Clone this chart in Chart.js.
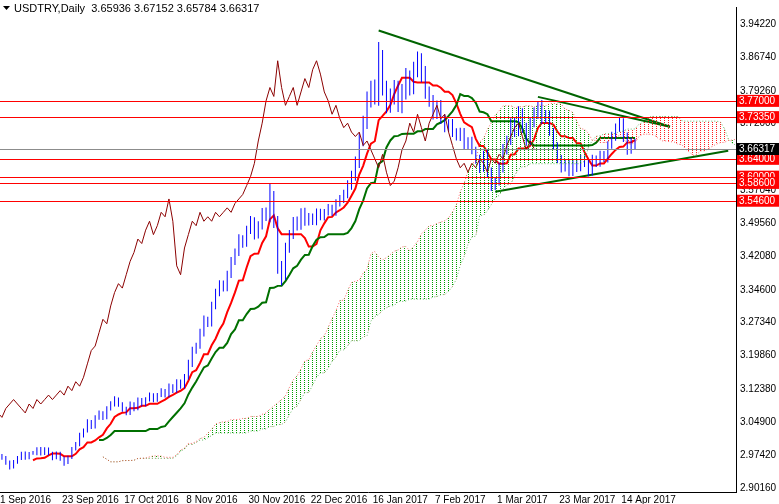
<!DOCTYPE html>
<html><head><meta charset="utf-8">
<script src="https://cdn.jsdelivr.net/npm/chart.js@4.4.0/dist/chart.umd.min.js"></script>
<style>html,body{margin:0;padding:0;background:#fff}#w{width:779px;height:504px}</style>
</head><body><div id="w"><canvas id="c"></canvas></div>
<script>
const closes=[2.97,2.96,2.95,2.96,2.97,2.98,2.97,2.98,2.98,2.99,
2.98,2.99,2.98,2.97,2.98,2.97,2.96,2.97,2.99,3.00,
3.02,3.03,3.05,3.04,3.06,3.07,3.06,3.08,3.09,3.10,
3.09,3.08,3.07,3.09,3.08,3.10,3.09,3.10,3.11,3.10,
3.11,3.12,3.11,3.13,3.12,3.14,3.13,3.15,3.18,3.21,
3.22,3.25,3.28,3.27,3.31,3.34,3.36,3.35,3.38,3.41,
3.43,3.46,3.45,3.48,3.50,3.47,3.49,3.52,3.51,3.55,
3.50,3.40,3.38,3.44,3.47,3.50,3.49,3.52,3.50,3.51,
3.50,3.52,3.51,3.52,3.53,3.52,3.54,3.55,3.56,3.58,
3.60,3.63,3.68,3.72,3.77,3.80,3.78,3.86,3.80,3.76,
3.78,3.80,3.76,3.79,3.82,3.80,3.84,3.86,3.83,3.79,
3.77,3.74,3.76,3.73,3.71,3.72,3.70,3.69,3.70,3.67,
3.68,3.66,3.64,3.62,3.65,3.61,3.58,3.59,3.62,3.66,
3.68,3.72,3.70,3.74,3.71,3.68,3.72,3.74,3.76,3.73,
3.74,3.70,3.67,3.64,3.62,3.63,3.61,3.63,3.62,3.64,
3.63,3.61,3.64,3.63,3.65,3.64,3.67,3.69,3.71,3.72,
3.69,3.66,3.68,3.66317];
const wickUp=[8,6,5,7,6,5,6,4,8,5, 6,5,4,5,6,5,4,7,6,8, 9,8,10,7,8,9,6,8,10,12,
 8,7,6,9,7,8,6,9,10,7, 8,9,6,10,7,9,8,12,15,14, 12,15,14,10,16,14,13,12,15,16,
 15,18,14,16,20,15,17,16,18,60, 30,20,18,20,17,16,18,15,17,14, 12,14,13,12,14,12,16,15,18,20,
 22,25,30,28,35,25,30,70,40,25, 30,28,25,30,40,30,30,35,28,30, 20,22,18,20,17,15,16,14,16,15,
 14,16,12,15,14,16,18,14,20,22, 20,18,20,30,22,18,20,25,15,20, 16,14,15,12,14,12,13,14,12,15,
 12,14,15,12,14,13,16,18,15,20, 18,15,12,8];
const wickDn=[8,10,12,8,7,9,8,7,6,8, 9,7,8,10,7,12,14,8,6,7, 8,9,7,10,8,9,10,7,8,9,
 10,12,9,8,10,7,9,8,7,10, 8,7,9,8,9,8,10,9,8,12, 12,10,14,12,10,12,14,13,12,12,
 14,13,16,12,14,18,15,14,16,20, 25,30,40,20,18,16,18,15,17,16, 14,15,13,14,12,14,13,12,15,14,
 16,15,18,20,22,25,30,35,30,30, 28,30,25,30,28,30,25,28,30,25, 22,20,18,20,17,16,18,15,17,16,
 15,16,18,20,15,18,20,17,16,18, 17,15,18,16,20,18,16,15,18,20, 16,14,15,16,18,14,15,14,16,13,
 14,15,12,14,13,12,14,12,16,15, 20,18,14,6];
const dateLabels=['1 Sep 2016','23 Sep 2016','17 Oct 2016','8 Nov 2016','30 Nov 2016','22 Dec 2016','16 Jan 2017','7 Feb 2017','1 Mar 2017','23 Mar 2017','14 Apr 2017'];
const levels=[3.77,3.7335,3.64,3.60,3.586,3.546];
const levelText=['3.77000','3.73350','3.64000','3.60000','3.58600','3.54600'];
const lastPrice=3.66317;
const upperTrend=[[97,3.928],[172,3.712]];
const upperTrend2=[[138,3.779],[172,3.712]];
const lowerTrend=[[127,3.566],[187,3.658]];
const yTicks=[3.94220,3.86740,3.79260,3.72000,3.64520,3.57040,3.49560,3.42080,3.34600,3.27340,3.19860,3.12380,3.04900,2.97420,2.90160];
const title='USDTRY,Daily  3.65936 3.67152 3.65784 3.66317';

const N=closes.length, SHIFT=26;
const opens=closes.map((c,i)=>i?closes[i-1]:c+0.003);
const highs=closes.map((c,i)=>Math.max(c,opens[i])+wickUp[i]/1000*0.6);
const lows=closes.map((c,i)=>Math.min(c,opens[i])-wickDn[i]/1000*0.6);
function mid(i,p){const s=Math.max(0,i-p+1);let h=-1e9,l=1e9;for(let k=s;k<=i;k++){h=Math.max(h,highs[k]);l=Math.min(l,lows[k]);}return (h+l)/2;}
const tenkan=[],kijun=[],spanA=[],spanB=[],chikou=[];
for(let i=0;i<N;i++){
 if(i>=8)tenkan.push({x:i,y:mid(i,9)});
 if(i>=25)kijun.push({x:i,y:mid(i,26)});
 chikou.push({x:i-SHIFT,y:closes[i]});
 spanA.push({x:i+SHIFT,y:(mid(i,9)+mid(i,26))/2});
 spanB.push({x:i+SHIFT,y:mid(i,52)});
}
const bars=closes.map((c,i)=>({x:i,y:[lows[i],highs[i]]}));
function pat(col){const p=document.createElement('canvas');p.width=4;p.height=4;const g=p.getContext('2d');g.fillStyle=col;g.fillRect(0,0,1,1);g.fillRect(0,2,1,1);return g.createPattern(p,'repeat');}
const line=(d,c,w,extra)=>Object.assign({type:'line',data:d,borderColor:c,borderWidth:w,pointRadius:0,fill:false,tension:0},extra||{});
const tl=a=>a.map(p=>({x:p[0],y:p[1]}));

const overlay={id:'ov',afterDatasetsDraw(ch){
 const g=ch.ctx,y=ch.scales.y,x=ch.scales.x,a=ch.chartArea;
 g.save();
 const py=Math.round(y.getPixelForValue(lastPrice));
 g.fillStyle='#8c8c8c';g.fillRect(a.left,py,a.right-a.left,1);
 g.fillStyle='#ff0000';
 levels.forEach(v=>{const p=Math.round(y.getPixelForValue(v));g.fillRect(a.left,p,a.right-a.left,1);});
 g.font='10px "Liberation Sans"';g.textBaseline='middle';
 levels.forEach((v,i)=>{const p=y.getPixelForValue(v);g.fillStyle='#ff0000';g.fillRect(a.right+1,p-6,42,12);g.fillStyle='#fff';g.fillText(levelText[i],a.right+3,p+0.5);});
 g.fillStyle='#000';g.fillRect(a.right+1,py-6,42,12);g.fillStyle='#fff';g.fillText('3.66317',a.right+3,py+0.5);
 g.fillStyle='#000';g.textBaseline='top';
 dateLabels.forEach((t,i)=>{g.fillText(t,x.getPixelForValue(i*16)-2,a.bottom+3);});
 g.font='11px "Liberation Sans"';g.fillText(title,14,3);
 g.beginPath();g.moveTo(3,6);g.lineTo(10,6);g.lineTo(6.5,10);g.closePath();g.fill();
 g.restore();
}};

new Chart(document.getElementById('c'),{
 data:{datasets:[
  Object.assign(line(spanA,'rgba(255,0,0,0.6)',1,{borderDash:[1,2]}),{fill:{target:1,above:pat('#00a000'),below:pat('#ff2020')}}),
  line(spanB,'rgba(0,140,0,0.6)',1,{borderDash:[1,2]}),
  line(chikou,'#8b0000',1),
  {type:'bar',data:bars,backgroundColor:'#0000ff',barThickness:1,maxBarThickness:1,inflateAmount:0,borderWidth:0,grouped:false},
  line(kijun,'#007000',2),
  line(tenkan,'#ff0000',2),
  line(tl(upperTrend),'#006400',2),
  line(tl(upperTrend2),'#006400',2),
  line(tl(lowerTrend),'#006400',2)
 ]},
 plugins:[overlay],
 options:{animation:false,responsive:true,maintainAspectRatio:false,
  layout:{padding:0},
  plugins:{legend:{display:false},tooltip:{enabled:false}},
  scales:{
   x:{type:'linear',offset:false,min:-0.5,max:189,grid:{display:false},border:{color:'#000'},ticks:{display:false},afterFit(s){s.height=12;}},
   y:{position:'right',min:2.8926,max:3.9806,grid:{display:false,drawTicks:true,tickLength:3},border:{color:'#000'},
    afterBuildTicks(s){s.ticks=yTicks.map(v=>({value:v}));},
    ticks:{color:'#000',font:{family:'Liberation Sans',size:10},padding:1,callback:v=>v.toFixed(5)},
    afterFit(s){s.width=43;}}
  }}
});
</script></body></html>
